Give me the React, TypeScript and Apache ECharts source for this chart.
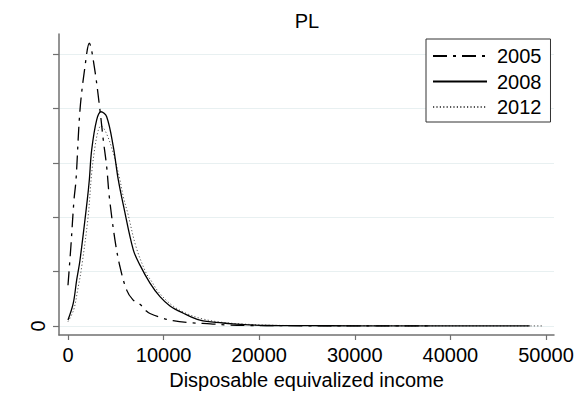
import React, { useEffect, useRef } from "react";
import * as echarts from "echarts";

// Kernel density of disposable equivalized income, Poland.
// Density values are in units of 1e-5 (y ticks every 5e-5).
const years = ["2005", "2008", "2012"];

const income2005 = [0, 314, 628, 837, 1255, 1778, 2228, 2751, 3347, 3692, 4048, 4320, 4916, 5439, 6140, 6799, 7531, 8232, 8577, 9623, 10983, 12800, 14900, 16600, 19000, 25000, 32000, 38000];
const density2005 = [3.75, 7.45, 11.6, 13.4, 19.85, 23.85, 26.0, 23.85, 19.85, 17.1, 14.65, 11.9, 7.9, 5.45, 3.3, 2.4, 2.0, 1.35, 1.15, 0.8, 0.5, 0.3, 0.2, 0.1, 0.05, 0.025, 0.015, 0.01];

const income2008 = [0, 554, 910, 1255, 2019, 2228, 2479, 3002, 3452, 4048, 4739, 5250, 5820, 6831, 7531, 8577, 9623, 10669, 12029, 13808, 16213, 17259, 20785, 25000, 30000, 36000, 42000, 48300];
const density2008 = [0.55, 2.1, 4.25, 6.05, 11.6, 13.4, 16.2, 18.95, 19.7, 19.25, 16.5, 13.5, 11.0, 7.0, 5.6, 3.95, 2.7, 1.85, 1.2, 0.55, 0.28, 0.2, 0.05, 0.03, 0.02, 0.015, 0.01, 0.005];

const income2012 = [0, 600, 1000, 1400, 2100, 2479, 2830, 3170, 3450, 4000, 4700, 5440, 5785, 6258, 7113, 8159, 8750, 9500, 10900, 12400, 14100, 16000, 18000, 21000, 26000, 32000, 40000, 49700];
const density2012 = [0.4, 1.5, 3.25, 5.25, 10.0, 14.05, 16.5, 18.0, 18.4, 17.75, 16.0, 13.4, 11.9, 10.35, 7.3, 4.9, 4.1, 3.1, 1.9, 1.15, 0.65, 0.35, 0.2, 0.075, 0.04, 0.025, 0.015, 0.01];

const xTicks = [0, 10000, 20000, 30000, 40000, 50000];
const yTicks = [0, 5, 10, 15, 20, 25];
const yLabels = [0];

const FONT = "Liberation Sans, Arial, sans-serif";

function pairs(xs: number[], ys: number[]) {
  return xs.map((x, i) => [x, ys[i]]);
}

export default function App() {
  const ref = useRef<HTMLDivElement>(null);

  useEffect(() => {
    if (!ref.current) return;
    const chart = echarts.init(ref.current, null, { renderer: "svg" });

    const lineBase = {
      type: "line" as const,
      showSymbol: false,
      symbol: "none",
      smooth: 0.35,
      emphasis: { disabled: true },
    };

    chart.setOption({
      animation: false,
      backgroundColor: "#ffffff",
      textStyle: { fontFamily: FONT },
      title: {
        text: "PL",
        left: 307,
        top: 11,
        textAlign: "center",
        padding: 0,
        textStyle: { fontSize: 20, fontWeight: "normal", color: "#000", fontFamily: FONT },
      },
      grid: { left: 59, right: 29, top: 34, bottom: 68, containLabel: false },
      legend: {
        orient: "vertical",
        left: 426,
        top: 39,
        padding: [7, 9, 5, 6],
        itemWidth: 54,
        itemHeight: 14,
        itemGap: 5.5,
        selectedMode: false,
        backgroundColor: "#ffffff",
        borderColor: "#333",
        borderWidth: 1,
        borderRadius: 0,
        itemStyle: { opacity: 0 },
        textStyle: { fontSize: 20, color: "#000", fontFamily: FONT, padding: [0, 0, 0, 5] },
        data: years,
      },
      xAxis: {
        type: "value",
        min: -940,
        max: 50840,
        name: "Disposable equivalized income",
        nameLocation: "middle",
        nameGap: 23,
        nameTextStyle: { fontSize: 20, color: "#000", fontFamily: FONT },
        axisLine: { show: true, onZero: false, lineStyle: { color: "#707070", width: 1.5 } },
        axisTick: { show: true, length: 5, customValues: xTicks, lineStyle: { color: "#707070", width: 1.2 } },
        axisLabel: {
          customValues: xTicks,
          fontSize: 20,
          color: "#000",
          margin: 10,
          fontFamily: FONT,
          formatter: (v: number) => String(v),
        },
        splitLine: { show: false },
      },
      yAxis: {
        type: "value",
        min: -0.825,
        max: 26.85,
        axisLine: { show: true, onZero: false, lineStyle: { color: "#707070", width: 1.5 } },
        axisTick: { show: true, length: 6, customValues: yTicks, lineStyle: { color: "#707070", width: 1.2 } },
        axisLabel: {
          customValues: yLabels,
          rotate: 90,
          fontSize: 20,
          color: "#000",
          margin: 11,
          fontFamily: FONT,
          formatter: (v: number) => String(v),
        },
        splitLine: { show: true, lineStyle: { color: "#e8f0f1", width: 1 } },
      },
      series: [
        {
          ...lineBase,
          name: "2005",
          data: pairs(income2005, density2005),
          lineStyle: { color: "#000", width: 1.3, type: [14, 6, 3, 6] },
          itemStyle: { color: "#000" },
          z: 3,
        },
        {
          ...lineBase,
          name: "2008",
          data: pairs(income2008, density2008),
          lineStyle: { color: "#000", width: 1.3, type: "solid" },
          itemStyle: { color: "#000" },
          z: 4,
        },
        {
          ...lineBase,
          name: "2012",
          data: pairs(income2012, density2012),
          lineStyle: { color: "#555", width: 1, type: [1.2, 2.2] },
          itemStyle: { color: "#555" },
          z: 2,
        },
      ],
    });

    return () => chart.dispose();
  }, []);

  return (
    <div
      ref={ref}
      style={{ position: "fixed", left: 0, top: 0, width: 583, height: 403 }}
    />
  );
}
